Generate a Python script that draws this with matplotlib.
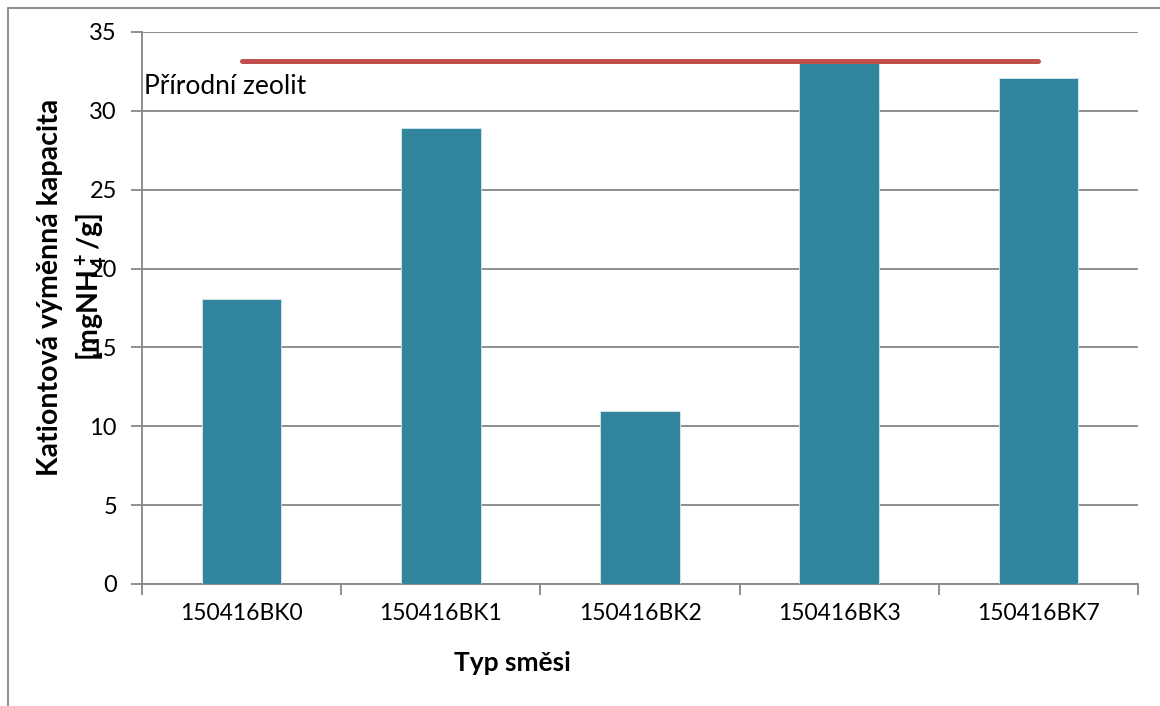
import matplotlib
matplotlib.use('Agg')
from matplotlib import pyplot as plt
from matplotlib.patches import Rectangle

# data
smesi = ['150416BK0', '150416BK1', '150416BK2', '150416BK3', '150416BK7']
kvk = [18.1, 28.9, 11.0, 33.3, 32.1]
zeolit = [33.15, 33.15, 33.15, 33.15, 33.15]

plt.rcParams['font.family'] = ['Lato', 'DejaVu Sans']
plt.rcParams['mathtext.fontset'] = 'custom'
plt.rcParams['mathtext.rm'] = 'Lato:bold'
plt.rcParams['mathtext.it'] = 'Lato:bold'
plt.rcParams['mathtext.bf'] = 'Lato:bold'

seda = '#868686'

fig = plt.figure(figsize=(11.6, 7.06), dpi=100)
ax = fig.add_axes([142 / 1160, 1 - 584 / 706, (1138 - 142) / 1160, (584 - 32) / 706])

x = list(range(len(smesi)))
ax.bar(x, kvk, width=0.4, color='#31859C', edgecolor='#d6e9ee', linewidth=0.6, zorder=3)
ax.plot(x, zeolit, color='#C0504D', lw=3.6, solid_capstyle='round', zorder=4)
ax.text(-0.49, 31.55, 'Přírodní zeolit', ha='left', va='center', fontsize=19, color='black', zorder=5)

ax.set_xlim(-0.5, len(smesi) - 0.5)
ax.set_ylim(0, 35)
ax.set_yticks(range(0, 36, 5))
ax.set_xticks(x)
ax.set_xticklabels(smesi, fontsize=16.5)
ax.tick_params(axis='x', length=0, pad=14)
ax.set_xticks([i - 0.5 for i in range(len(smesi) + 1)], minor=True)
ax.tick_params(axis='x', which='minor', length=8, width=1.3, color=seda, direction='out')
ax.tick_params(axis='y', labelsize=17, length=8, width=1.3, color=seda, pad=10)

ax.grid(axis='y', color=seda, linewidth=1.3, zorder=0)
ax.set_axisbelow(True)
for s in ['top', 'right']:
    ax.spines[s].set_visible(False)
for s in ['left', 'bottom']:
    ax.spines[s].set_color(seda)
    ax.spines[s].set_linewidth(1.3)

# popisky os
fig.text(512 / 1160, 1 - 663 / 706, 'Typ směsi', ha='center', va='center', fontsize=19, fontweight='bold')
fig.text(50 / 1160, 1 - 287 / 706, 'Kationtová výměnná kapacita', rotation=90,
         ha='center', va='center', fontsize=20.5, fontweight='bold')
fig.text(92 / 1160, 1 - 287 / 706, '[mgNH$_4^+$/g]', rotation=90,
         ha='center', va='center', fontsize=20.5, fontweight='bold')

# ramecek grafu
fig.patches.append(Rectangle((8 / 1160, -0.1), 2, 1.1 - 8 / 706, transform=fig.transFigure,
                             fill=False, edgecolor=seda, linewidth=1.3))

plt.savefig('out.png', dpi=100)
